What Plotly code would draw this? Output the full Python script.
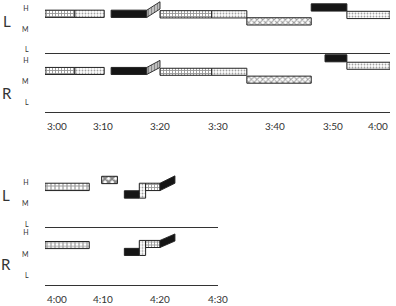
import plotly.graph_objects as go

W, H = 396, 306

# ---------------- data ----------------
# x values are minutes after the start of each chart (3:00 top, 4:00 bottom)
top_tickvals = [0, 10, 20, 30, 40, 50, 60]
top_ticktext = ["3:00", "3:10", "3:20", "3:30", "3:40", "3:50", "4:00"]
bot_tickvals = [0, 10, 20, 30]
bot_ticktext = ["4:00", "4:10", "4:20", "4:30"]
level_vals = [3, 2, 1]
level_text = ["H", "M", "L"]

# Top chart, L side
tL_grid_start = [0, 20];        tL_grid_end = [5.2, 29];          tL_grid_lev = [2.745, 2.72]
tL_dot_start = [5.2, 29, 52.5]; tL_dot_end = [10.3, 35.1, 60];    tL_dot_lev = [2.745, 2.72, 2.69]
tL_blk_start = [11.5, 46.3];    tL_blk_end = [17.7, 52.5];        tL_blk_lev = [2.745, 3.05]
tL_wav_start = [35.1];          tL_wav_end = [46.3];              tL_wav_lev = [2.38]
tL_slant = [17.7, 20.0, 2.745, 3.15]

# Top chart, R side
tR_grid_start = [0, 20];        tR_grid_end = [5.2, 29];          tR_grid_lev = [2.52, 2.48]
tR_dot_start = [5.2, 29, 52.5]; tR_dot_end = [10.3, 35.1, 60];    tR_dot_lev = [2.52, 2.48, 2.77]
tR_blk_start = [11.5, 48.7];    tR_blk_end = [17.7, 52.5];        tR_blk_lev = [2.52, 3.13]
tR_wav_start = [35.1];          tR_wav_end = [46.3];              tR_wav_lev = [2.10]
tR_slant = [17.7, 20.0, 2.52, 2.86]

# Bottom chart, L side
bL_sq_start = [0];      bL_sq_end = [7.7];    bL_sq_lev = [2.80]
bL_chk_start = [9.85];  bL_chk_end = [12.6];  bL_chk_lev = [3.13]
bL_blk_start = [13.8];  bL_blk_end = [16.4];  bL_blk_lev = [2.44]
bL_col = [16.4, 17.5, 2.265, 2.975]
bL_grid_start = [17.5]; bL_grid_end = [20.0]; bL_grid_lev = [2.80]
bL_slant = [20.0, 22.6, 2.80, 3.15]

# Bottom chart, R side
bR_sq_start = [0];      bR_sq_end = [7.7];    bR_sq_lev = [2.44]
bR_blk_start = [13.8];  bR_blk_end = [16.4];  bR_blk_lev = [2.12]
bR_col = [16.4, 17.5, 1.955, 2.655]
bR_grid_start = [17.5]; bR_grid_end = [20.0]; bR_grid_lev = [2.49]
bR_slant = [20.0, 22.6, 2.49, 2.79]

# ---------------- styles ----------------
STY = {
    "grid": dict(color="white", pattern=dict(shape="+", fgcolor="#2a2a2a", bgcolor="white", size=3, solidity=0.5)),
    "dot": dict(color="white", pattern=dict(shape=".", fgcolor="#444", bgcolor="white", size=3, solidity=0.3)),
    "sq": dict(color="white", pattern=dict(shape="+", fgcolor="#333", bgcolor="white", size=4, solidity=0.5)),
    "wav": dict(color="white", pattern=dict(shape="x", fgcolor="#333", bgcolor="white", size=4, solidity=0.45)),
    "blk": dict(color="#151515"),
    "chk": dict(color="white", pattern=dict(shape="x", fgcolor="#111", bgcolor="white", size=5, solidity=0.65)),
}

fig = go.Figure()


def add_bars(ax, starts, ends, levs, style, thick):
    mk = dict(STY[style])
    mk["line"] = dict(color="#222", width=1)
    fig.add_trace(go.Bar(
        orientation="h",
        base=starts,
        x=[e - s for s, e in zip(starts, ends)],
        y=levs,
        width=[thick] * len(levs),
        marker=mk,
        xaxis="x" + ax, yaxis="y" + ax,
        showlegend=False, hoverinfo="skip",
    ))


def add_col(ax, col, style):
    s, e, lo, hi = col
    add_bars(ax, [s], [e], [(lo + hi) / 2], style, hi - lo)


def add_slant(ax, sl, thick, fill, pattern):
    t0, t1, v0, v1 = sl
    h = thick / 2
    xs = [t0, t0, t1, t1, t0]
    ys = [v0 - h, v0 + h, v1 + h, v1 - h, v0 - h]
    kw = dict(x=xs, y=ys, mode="lines", fill="toself", fillcolor=fill,
              line=dict(color="#222", width=0.9),
              xaxis="x" + ax, yaxis="y" + ax, showlegend=False, hoverinfo="skip")
    if pattern:
        kw["fillpattern"] = dict(shape="|", fgcolor="#444", bgcolor="#ccc", size=3, solidity=0.45)
    fig.add_trace(go.Scatter(**kw))


thL, thR, bthL, bthR = 0.35, 0.34, 0.35, 0.33

# top L -> axis "" (x/y), top R -> "2", bottom L -> "3", bottom R -> "4"
add_bars("", tL_grid_start, tL_grid_end, tL_grid_lev, "grid", thL)
add_bars("", tL_dot_start, tL_dot_end, tL_dot_lev, "dot", thL)
add_bars("", tL_blk_start, tL_blk_end, tL_blk_lev, "blk", thL)
add_bars("", tL_wav_start, tL_wav_end, tL_wav_lev, "wav", thL)
add_slant("", tL_slant, thL, "#aaa", True)

add_bars("2", tR_grid_start, tR_grid_end, tR_grid_lev, "grid", thR)
add_bars("2", tR_dot_start, tR_dot_end, tR_dot_lev, "dot", thR)
add_bars("2", tR_blk_start, tR_blk_end, tR_blk_lev, "blk", thR)
add_bars("2", tR_wav_start, tR_wav_end, tR_wav_lev, "wav", thR)
add_slant("2", tR_slant, thR, "#aaa", True)

add_bars("3", bL_sq_start, bL_sq_end, bL_sq_lev, "sq", bthL)
add_bars("3", bL_chk_start, bL_chk_end, bL_chk_lev, "chk", bthL)
add_bars("3", bL_blk_start, bL_blk_end, bL_blk_lev, "blk", bthL)
add_col("3", bL_col, "dot")
add_bars("3", bL_grid_start, bL_grid_end, bL_grid_lev, "grid", bthL)
add_slant("3", bL_slant, bthL, "#151515", False)

add_bars("4", bR_sq_start, bR_sq_end, bR_sq_lev, "sq", bthR)
add_bars("4", bR_blk_start, bR_blk_end, bR_blk_lev, "blk", bthR)
add_col("4", bR_col, "dot")
add_bars("4", bR_grid_start, bR_grid_end, bR_grid_lev, "grid", bthR)
add_slant("4", bR_slant, bthR, "#151515", False)

FONT = "Lato"


def px(xp):
    return xp / W


def py(yp):
    return 1 - yp / H


def xax(dom, rng, anchor):
    return dict(domain=dom, range=rng, showgrid=False, zeroline=False, showticklabels=False,
                ticks="", showline=True, linecolor="#333", linewidth=1.3, mirror=False,
                anchor=anchor, fixedrange=True)


def yax(dom, rng, anchor):
    return dict(domain=dom, range=rng, showgrid=False, zeroline=False, showline=False,
                tickvals=level_vals, ticktext=level_text, ticks="outside", ticklen=14,
                tickcolor="rgba(0,0,0,0)", tickfont=dict(family=FONT, size=7, color="#333"),
                anchor=anchor, fixedrange=True)


top_dom = [px(45), px(390)]
bot_dom = [px(45), px(217.5)]

fig.update_layout(
    width=W, height=H, margin=dict(l=0, r=0, t=0, b=0),
    paper_bgcolor="white", plot_bgcolor="rgba(0,0,0,0)",
    barmode="overlay",
    xaxis=xax(top_dom, [0, 60], "y"),
    yaxis=yax([py(53), py(0)], [0.855, 3.41], "x"),
    xaxis2=xax(top_dom, [0, 60], "y2"),
    yaxis2=yax([py(112), py(54)], [0.542, 3.337], "x2"),
    xaxis3=xax(bot_dom, [0, 30], "y3"),
    yaxis3=yax([py(227.3), py(168)], [0.876, 3.70], "x3"),
    xaxis4=xax(bot_dom, [0, 30], "y4"),
    yaxis4=yax([py(284.7), py(228.5)], [0.595, 3.209], "x4"),
)

ann = []
for i, (v, t) in enumerate(zip(top_tickvals, top_ticktext)):
    anc = "left" if i == 0 else ("right" if i == len(top_tickvals) - 1 else "center")
    ann.append(dict(x=v, y=py(126), xref="x2", yref="paper", text=t, showarrow=False,
                    xanchor=anc, yanchor="middle", font=dict(family=FONT, size=10, color="#333")))
for i, (v, t) in enumerate(zip(bot_tickvals, bot_ticktext)):
    anc = "left" if i == 0 else "center"
    ann.append(dict(x=v, y=py(299), xref="x4", yref="paper", text=t, showarrow=False,
                    xanchor=anc, yanchor="middle", font=dict(family=FONT, size=10, color="#333")))
for txt, xp, yp in [("L", 6.5, 21), ("R", 6.7, 93), ("L", 6.3, 195), ("R", 6.3, 263.5)]:
    ann.append(dict(x=px(xp), y=py(yp), xref="paper", yref="paper", text=txt, showarrow=False,
                    xanchor="center", yanchor="middle", font=dict(family=FONT, size=15, color="#333")))
fig.update_layout(annotations=ann)

fig.write_html("out.html")
